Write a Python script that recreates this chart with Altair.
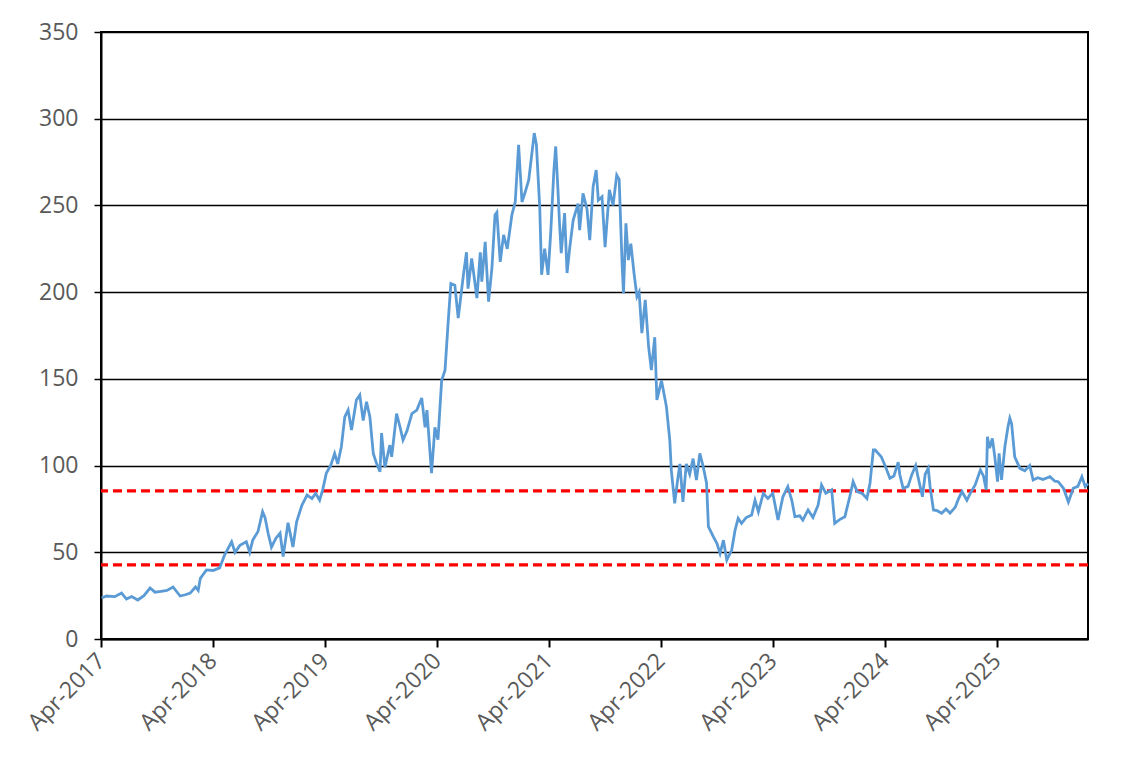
import altair as alt
import pandas as pd

dates = [
    "2017-04-03", "2017-04-19", "2017-05-16", "2017-06-07", "2017-06-23", "2017-07-10", "2017-07-30",
    "2017-08-19", "2017-09-08", "2017-09-24", "2017-10-14", "2017-11-02", "2017-11-22", "2017-12-15",
    "2018-01-01", "2018-01-17", "2018-02-03", "2018-02-12", "2018-02-19", "2018-03-11", "2018-04-01",
    "2018-04-23", "2018-05-09", "2018-06-01", "2018-06-12", "2018-06-28", "2018-07-19", "2018-07-30",
    "2018-08-09", "2018-08-26", "2018-09-10", "2018-09-18", "2018-09-28", "2018-10-09", "2018-10-23",
    "2018-11-06", "2018-11-16", "2018-12-02", "2018-12-18", "2018-12-30", "2019-01-16", "2019-02-02",
    "2019-02-18", "2019-03-02", "2019-03-15", "2019-03-25", "2019-04-06", "2019-04-20", "2019-05-03",
    "2019-05-13", "2019-05-25", "2019-06-05", "2019-06-16", "2019-06-27", "2019-07-13", "2019-07-24",
    "2019-08-04", "2019-08-15", "2019-08-26", "2019-09-06", "2019-09-17", "2019-09-28", "2019-10-03",
    "2019-10-14", "2019-10-30", "2019-11-05", "2019-11-21", "2019-12-02", "2019-12-12", "2019-12-25",
    "2020-01-10", "2020-01-26", "2020-02-11", "2020-02-22", "2020-02-28", "2020-03-14", "2020-03-25",
    "2020-04-04", "2020-04-10", "2020-04-16", "2020-04-27", "2020-05-07", "2020-05-16", "2020-05-29",
    "2020-06-09", "2020-06-26", "2020-07-06", "2020-07-11", "2020-07-23", "2020-08-09", "2020-08-20",
    "2020-08-25", "2020-09-05", "2020-09-16", "2020-09-27", "2020-10-07", "2020-10-13", "2020-10-24",
    "2020-11-04", "2020-11-16", "2020-12-01", "2020-12-12", "2020-12-23", "2021-01-03", "2021-01-14",
    "2021-01-25", "2021-02-05", "2021-02-12", "2021-02-19", "2021-02-25", "2021-03-02", "2021-03-08",
    "2021-03-18", "2021-03-29", "2021-04-07", "2021-04-17", "2021-04-23", "2021-04-30", "2021-05-06",
    "2021-05-11", "2021-05-22", "2021-05-30", "2021-06-08", "2021-06-19", "2021-07-05", "2021-07-10",
    "2021-07-21", "2021-08-03", "2021-08-12", "2021-08-23", "2021-09-02", "2021-09-09", "2021-09-21",
    "2021-10-01", "2021-10-15", "2021-10-27", "2021-11-08", "2021-11-16", "2021-11-25", "2021-11-30",
    "2021-12-08", "2021-12-16", "2021-12-24", "2022-01-04", "2022-01-13", "2022-01-20", "2022-01-29",
    "2022-02-09", "2022-02-20", "2022-03-01", "2022-03-12", "2022-03-19", "2022-04-03", "2022-04-19",
    "2022-04-30", "2022-05-05", "2022-05-16", "2022-05-27", "2022-06-02", "2022-06-12", "2022-06-23",
    "2022-07-04", "2022-07-15", "2022-07-26", "2022-08-06", "2022-08-17", "2022-08-28", "2022-09-03",
    "2022-09-19", "2022-10-01", "2022-10-11", "2022-10-22", "2022-11-02", "2022-11-18", "2022-11-29",
    "2022-12-09", "2022-12-20", "2023-01-04", "2023-01-22", "2023-02-02", "2023-02-13", "2023-03-01",
    "2023-03-16", "2023-04-01", "2023-04-18", "2023-05-04", "2023-05-20", "2023-06-02", "2023-06-12",
    "2023-06-28", "2023-07-08", "2023-07-25", "2023-08-10", "2023-08-27", "2023-09-07", "2023-09-21",
    "2023-10-10", "2023-10-20", "2023-11-06", "2023-11-22", "2023-12-08", "2023-12-19", "2024-01-01",
    "2024-01-17", "2024-02-02", "2024-02-12", "2024-02-23", "2024-02-29", "2024-03-20", "2024-04-01",
    "2024-04-17", "2024-04-30", "2024-05-14", "2024-05-19", "2024-05-30", "2024-06-15", "2024-06-27",
    "2024-07-10", "2024-07-17", "2024-08-01", "2024-08-10", "2024-08-20", "2024-08-26", "2024-09-06",
    "2024-09-18", "2024-10-03", "2024-10-17", "2024-10-30", "2024-11-16", "2024-11-27", "2024-12-08",
    "2024-12-24", "2025-01-04", "2025-01-20", "2025-02-06", "2025-02-16", "2025-02-25", "2025-03-01",
    "2025-03-08", "2025-03-17", "2025-03-25", "2025-04-03", "2025-04-08", "2025-04-16", "2025-04-27",
    "2025-05-07", "2025-05-13", "2025-05-19", "2025-05-29", "2025-06-15", "2025-07-01", "2025-07-17",
    "2025-07-28", "2025-08-12", "2025-08-29", "2025-09-21", "2025-10-07", "2025-10-18", "2025-11-04",
    "2025-11-20", "2025-12-06", "2025-12-21", "2026-01-03", "2026-01-14", "2026-01-23",
]

values = [
    23.6, 24.8, 24.4, 26.5, 23.0, 24.5, 22.5,
    25.0, 29.4, 27.0, 27.5, 28.0, 30.0, 24.8,
    25.5, 26.5, 30.0, 28.0, 35.0, 39.8, 39.5,
    41.0, 48.4, 56.0, 50.0, 54.0, 56.0, 50.0,
    57.0, 62.0, 73.4, 70.0, 61.0, 53.0, 58.0,
    61.0, 47.5, 67.0, 53.0, 67.6, 77.0, 83.0,
    81.0, 84.0, 80.0, 86.0, 95.7, 100.0, 107.0,
    101.0, 111.0, 128.0, 132.0, 120.5, 137.8, 140.7,
    126.0, 136.8, 128.0, 107.0, 101.0, 96.5, 118.7,
    99.0, 111.8, 105.0, 130.0, 122.4, 114.7, 120.0,
    130.0, 132.0, 139.0, 122.0, 132.0, 95.6, 122.0,
    115.0, 132.0, 149.0, 155.0, 182.0, 205.0, 204.0,
    185.0, 210.0, 223.0, 202.0, 219.5, 196.6, 223.0,
    206.0, 229.0, 194.5, 214.0, 244.5, 246.0, 217.5,
    233.0, 225.0, 244.5, 252.0, 285.0, 252.0, 258.0,
    264.7, 281.0, 291.7, 285.0, 265.0, 248.5, 210.0,
    225.0, 210.0, 235.0, 270.0, 284.0, 260.0, 237.7,
    222.5, 245.6, 211.0, 226.0, 241.6, 251.0, 235.8,
    257.0, 248.0, 230.0, 260.8, 270.4, 253.0, 255.0,
    226.0, 259.0, 250.0, 267.5, 265.0, 218.5, 199.3,
    239.7, 218.5, 228.0, 210.0, 197.4, 200.0, 176.4,
    195.5, 168.5, 155.0, 174.0, 137.8, 149.0, 134.0,
    114.7, 97.4, 78.2, 93.6, 101.0, 79.0, 101.0,
    95.0, 104.0, 91.7, 107.0, 99.4, 89.8, 64.8,
    59.0, 55.0, 49.4, 57.0, 45.5, 51.3, 62.8,
    69.6, 66.7, 70.0, 71.5, 80.0, 73.4, 84.0,
    81.0, 84.0, 68.6, 82.0, 87.8, 80.0, 70.5,
    71.0, 68.6, 74.4, 70.0, 77.3, 88.8, 84.0,
    86.0, 66.7, 69.0, 70.5, 82.0, 90.7, 85.0,
    84.0, 81.0, 89.8, 109.0, 109.0, 105.0, 100.0,
    92.7, 94.0, 102.0, 95.0, 86.9, 88.0, 94.6,
    100.0, 94.0, 82.0, 95.0, 98.4, 87.8, 74.4,
    74.0, 72.5, 75.0, 72.5, 76.0, 81.0, 85.0,
    80.0, 84.0, 88.8, 97.4, 94.0, 86.0, 116.6,
    110.0, 115.7, 105.0, 90.7, 107.0, 91.7, 111.0,
    122.4, 127.3, 124.0, 105.0, 98.4, 97.0, 100.0,
    91.7, 93.0, 92.0, 93.6, 91.0, 90.7, 86.9,
    79.0, 86.9, 88.0, 93.6, 87.8, 89.8,
]

band_levels = [85.4, 42.7]
tick_years = [2017, 2018, 2019, 2020, 2021, 2022, 2023, 2024, 2025]
y_ticks = [0, 50, 100, 150, 200, 250, 300, 350]

df = pd.DataFrame({"date": pd.to_datetime(dates), "value": values})
bands = pd.DataFrame({"level": band_levels})

FONT = "Open Sans"
LABEL_COLOR = "#595959"
FS = 23

x_scale = alt.Scale(
    domain=[alt.DateTime(year=2017, month=4, date=1), alt.DateTime(year=2026, month=1, date=23)],
    nice=False,
)
y_scale = alt.Scale(domain=[0, 350], nice=False)

x_axis = alt.Axis(
    values=[alt.DateTime(year=y, month=4, date=1) for y in tick_years],
    format="%b-%Y",
    labelAngle=-45,
    labelAlign="right",
    labelBaseline="middle",
    labelPadding=10,
    labelFontSize=FS,
    labelFont=FONT,
    labelColor=LABEL_COLOR,
    tickSize=8,
    tickColor="black",
    tickWidth=2,
    domainColor="black",
    domainWidth=2,
    grid=False,
    title=None,
    labelOverlap=False,
    labelFlush=False,
)

y_axis = alt.Axis(
    values=y_ticks,
    labelPadding=16,
    labelFontSize=FS,
    labelFont=FONT,
    labelColor=LABEL_COLOR,
    tickSize=7,
    tickColor="black",
    tickWidth=1.5,
    domainColor="black",
    domainWidth=2,
    grid=True,
    gridColor="black",
    gridWidth=1.4,
    title=None,
    labelOverlap=False,
    labelFlush=False,
)

line = alt.Chart(df).mark_line(color="#5B9BD5", strokeWidth=2.8).encode(
    x=alt.X("date:T", scale=x_scale, axis=x_axis),
    y=alt.Y("value:Q", scale=y_scale, axis=y_axis),
)

rules = alt.Chart(bands).mark_rule(color="#FF0000", strokeWidth=3.2, strokeDash=[9, 5]).encode(
    y=alt.Y("level:Q", scale=y_scale),
)

chart = (
    alt.layer(rules, line)
    .properties(
        width=987,
        height=607,
        background="white",
        padding={"left": 15, "top": 13, "right": 5, "bottom": 5},
    )
    .configure_view(stroke="black", strokeWidth=2)
)

chart.save("out.html", embed_options={"renderer": "svg", "actions": False})
